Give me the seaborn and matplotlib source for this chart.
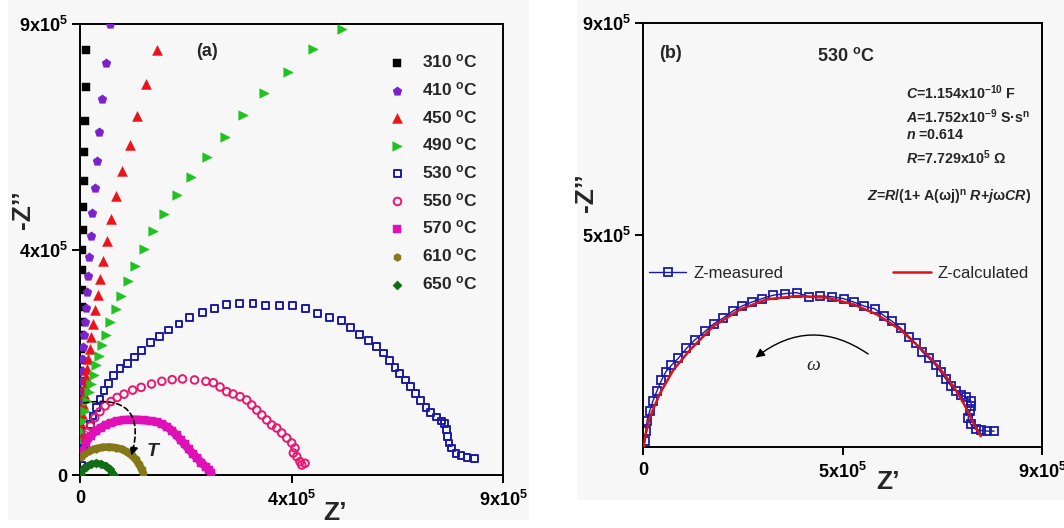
import matplotlib
matplotlib.use("Agg")
import matplotlib.pyplot as plt
from matplotlib.patches import Rectangle
import seaborn as sns

# ---- (a) Nyquist plots at different temperatures, values in kOhm ----
z310_re = [13.2, 12.4, 10.2, 9.5, 8.1, 7.3, 5.9, 4.4, 3.7, 3.7, 3.7, 3.7, 2.9, 2.2, 1.5, 0.7, 0.7, 0.0]
z310_im = [849, 775, 706, 644, 587, 535, 489, 449, 410, 370, 336, 306, 279, 252, 229, 208, 188, 168]

z410_re = [62.9, 54.9, 47.6, 41.0, 35.9, 31.5, 26.3, 22.7, 19.8, 16.8, 14.6, 12.4, 10.2, 8.0, 6.6,
           5.1, 3.7, 2.9, 2.2, 1.5, 0.7]
z410_im = [900, 823, 750, 685, 627, 573, 523, 476, 436, 398, 365, 333, 306, 279, 256,
           232, 208, 188, 168, 148, 128]

z450_re = [163.2, 140.5, 122.2, 105.4, 89.3, 77.6, 65.9, 58.5, 49.8, 43.2, 37.3, 32.2, 27.8, 23.4,
           20.5, 17.6, 14.6, 12.4, 10.2, 8.0, 5.9, 4.4, 2.9, 2.2]
z450_im = [849, 780, 716, 659, 607, 557, 511, 467, 428, 392, 360, 330, 301, 276,
           252, 232, 212, 195, 178, 161, 141, 121, 101, 81]

z490_re = [556.8, 496.1, 443.4, 392.2, 347.6, 308.0, 270.7, 236.3, 205.6, 179.3, 155.9, 136.1, 117.8,
           101.7, 87.8, 76.1, 64.4, 55.6, 47.6, 41.0, 35.1, 29.3, 24.1, 19.0, 14.6, 10.2, 7.3, 4.4, 2.2]
z490_im = [890, 851, 805, 762, 718, 675, 634, 595, 558, 521, 486, 451, 417,
           387, 358, 331, 306, 280, 259, 237, 219, 200, 182, 165, 148, 128, 108, 87, 67]

z530_re = [2.9, 7.3, 11.7, 16.8, 22.0, 27.8, 35.1, 42.4, 51.2, 60.7, 71.7, 84.9, 101.0, 115.6,
           131.7, 150.0, 168.3, 188.8, 210.7, 232.7, 259.8, 285.4, 311.7, 340.2, 368.0, 395.1,
           424.4, 452.2, 479.3, 504.9, 530.5, 556.1, 575.1, 594.9, 613.2, 631.5, 646.1, 658.5,
           670.2, 680.5, 692.2, 703.2, 714.1, 724.4, 736.1, 746.3, 758.0, 768.3, 776.3, 779.3,
           781.5, 785.1, 790.2, 799.8, 810.7, 823.2, 840.0]
z530_im = [20, 53.8, 74, 87.4, 100.9, 117.7, 134.5, 151.3, 168.2, 182.9, 198.4, 211.9, 222.0, 235.4,
           248.9, 263.7, 275.8, 289.2, 301.3, 314.8, 324.2, 332.9, 339.7, 343.0, 343.0, 337.6,
           337.6, 337.6, 332.9, 322.8, 314.8, 308.0, 294.6, 281.1, 269.0, 256.9, 243.5, 228.7,
           215.2, 203.1, 189.7, 176.2, 162.8, 149.3, 134.5, 124.4, 115.7, 107.6, 102.2, 90.8,
           77.3, 63.9, 53.8, 43.7, 39.0, 35.6, 33.6]

z550_re = [5.9, 11.7, 16.1, 22.0, 31.5, 42.4, 53.4, 65.9, 79.0, 93.7, 112.0, 130.2, 152.2, 174.1,
           196.1, 218.1, 243.7, 267.8, 283.7, 297.9, 312.2, 325.6, 340.5, 354.7, 365.4, 376.0,
           386.7, 397.3, 407.9, 418.6, 429.2, 439.9, 450.5, 457.5, 453.9, 461.2, 468.2, 478.8, 471.8]
z550_im = [47, 74, 86, 97.5, 114.3, 126.4, 137.9, 146.6, 154.7, 161.4, 169.5, 174.9, 181.6, 187.0,
           190.3, 191.7, 189.7, 187.0, 184.2, 175.6, 166.3, 161.7, 156.3, 149.7, 139.7, 129.7,
           119.8, 109.8, 99.8, 93.8, 83.8, 73.9, 63.9, 53.9, 43.9, 36.5, 26.5, 23.4, 20.0]

z570_re = [2.8, 12.1, 22.7, 33.3, 44.0, 54.6, 65.3, 79.4, 93.6, 107.8, 122.0, 136.2, 150.4, 164.6,
           175.2, 185.8, 196.5, 205.7, 214.2, 222.7, 231.9, 241.2, 249.7, 258.2, 267.4, 274.5, 279.5]
z570_im = [47.9, 64.5, 77.8, 87.8, 94.5, 99.8, 103.8, 107.8, 109.8, 110.4, 110.4, 109.1, 107.8, 105.8,
           101.1, 95.8, 87.8, 79.2, 69.9, 61.2, 51.2, 41.2, 33.3, 24.6, 16.6, 10.0, 4.7]

z610_re = [1.4, 8.5, 19.2, 33.3, 47.5, 61.7, 75.9, 90.1, 100.7, 109.9, 118.5, 125.5, 131.2, 134.8]
z610_im = [35.9, 42.6, 47.9, 52.6, 55.2, 55.9, 54.6, 51.2, 45.9, 39.3, 31.3, 21.3, 11.3, 2.7]

z650_re = [1.4, 5.0, 12.1, 22.7, 33.3, 44.0, 54.6, 63.1, 68.8, 72.3]
z650_im = [2.7, 10.0, 16.6, 21.3, 23.3, 22.0, 18.0, 11.3, 4.7, 0.0]

temps_a = ["310", "410", "450", "490", "530", "550", "570", "610", "650"]

# ---- (b) 530 C measured vs calculated, values in kOhm ----
zb_meas_re = [3.8, 6.0, 9.1, 15.1, 22.6, 31.7, 41.5, 51.3, 64.1, 79.2, 98.1, 116.9, 139.6, 159.9,
              181.1, 202.2, 222.5, 245.2, 267.8, 292.7, 320.6, 347.0, 373.4, 399.8, 426.2, 452.6,
              475.3, 499.4, 522.8, 543.2, 562.0, 580.9, 599.8, 614.8, 629.9, 645.0, 660.1, 671.4,
              682.7, 694.0, 705.4, 716.7, 728.0, 739.3, 740.8, 737.8, 733.3, 739.3, 750.6, 761.9,
              777.0, 792.1]
zb_meas_im = [12.2, 33.7, 55.2, 76.7, 98.2, 119.8, 141.3, 159.2, 173.5, 187.9, 209.4, 227.3, 245.2, 261.7,
              273.9, 288.3, 299.0, 307.6, 314.8, 322.0, 325.6, 327.7, 319.1, 320.6, 319.1, 314.8,
              307.6, 299.0, 293.3, 279.0, 266.8, 252.4, 234.5, 220.1, 202.2, 187.9, 173.5, 159.2,
              144.9, 130.5, 119.8, 111.2, 105.4, 98.2, 87.5, 76.7, 62.4, 48.0, 37.3, 35.1,
              33.7, 33.7]
zb_fit_re = [1.5, 6.0, 15.1, 37.7, 67.9, 105.6, 158.4, 218.8, 279.1, 347.0, 414.9, 475.3, 528.1,
             580.9, 626.2, 663.9, 701.6, 724.2, 746.9, 761.9]
zb_fit_im = [0, 26.5, 62.4, 112.6, 162.8, 205.8, 256.0, 291.9, 313.4, 320.5, 317.0, 302.6, 281.1,
             248.8, 209.4, 173.5, 126.9, 91.1, 48.0, 22.9]

# axis ticks as printed on the figure
ticks_a = [0, 450e3, 900e3]
xlabels_a = ["0", "4x10$^{5}$", "9x10$^{5}$"]
ylabels_a = ["0", "4x10$^{5}$", "9x10$^{5}$"]
xticks_b = [0, 450e3, 900e3]
xlabels_b = ["0", "5x10$^{5}$", "9x10$^{5}$"]
yticks_b = [450e3, 900e3]
ylabels_b = ["5x10$^{5}$", "9x10$^{5}$"]

K = 1e3

sns.set_theme(style="ticks")
plt.rcParams["font.family"] = ["Liberation Sans", "DejaVu Sans"]
plt.rcParams["mathtext.fontset"] = "custom"
plt.rcParams["mathtext.rm"] = "Liberation Sans:bold"
plt.rcParams["mathtext.it"] = "Liberation Sans:italic:bold"
plt.rcParams["mathtext.bf"] = "Liberation Sans:bold"
plt.rcParams["mathtext.default"] = "rm"

fig = plt.figure(figsize=(10.64, 5.28), dpi=100, facecolor="white")
fig.add_artist(Rectangle((0.0075, 0.015), 0.49, 0.985, transform=fig.transFigure,
                         facecolor="#f7f7f7", edgecolor="none", zorder=-5))
fig.add_artist(Rectangle((0.542, 0.053), 0.458, 0.947, transform=fig.transFigure,
                         facecolor="#f7f7f7", edgecolor="none", zorder=-5))

ax1 = fig.add_axes([80 / 1064, 53 / 528, 423 / 1064, 451 / 528])
ax2 = fig.add_axes([643 / 1064, 81 / 528, 399 / 1064, 424 / 528])

# --- panel (a) ---
series_a = [
    (z310_re, z310_im, "s", "#000000", True, 28),
    (z410_re, z410_im, "p", "#7a22cc", True, 46),
    (z450_re, z450_im, "^", "#e8141a", True, 52),
    (z490_re, z490_im, ">", "#1fc21f", True, 48),
    (z530_re, z530_im, "s", "#1a1aa8", False, 24),
    (z550_re, z550_im, "o", "#e8186e", False, 30),
    (z570_re, z570_im, "s", "#e010b8", True, 28),
    (z610_re, z610_im, "h", "#857818", True, 34),
    (z650_re, z650_im, "D", "#0f6e14", True, 22),
]
band_width = {"570": 6.0, "610": 5.5, "650": 5.0}

for t, (xs, ys, mk, col, filled, size) in zip(temps_a, series_a):
    xv = [v * K for v in xs]
    yv = [v * K for v in ys]
    if t in band_width:
        sns.lineplot(x=xv, y=yv, ax=ax1, sort=False, estimator=None, color=col,
                     lw=band_width[t], legend=False, zorder=2)
    label = t + " $^{o}$C"
    if filled:
        sns.scatterplot(x=xv, y=yv, ax=ax1, marker=mk, s=size, color=col,
                        edgecolor=col, linewidth=0.3, label=label, zorder=3)
    else:
        sns.scatterplot(x=xv, y=yv, ax=ax1, marker=mk, s=size, facecolor="none",
                        edgecolor=col, linewidth=1.4, label=label, zorder=3)

ax1.set_xlim(0, 900e3)
ax1.set_ylim(0, 900e3)
ax1.set_xticks(ticks_a, xlabels_a)
ax1.set_yticks(ticks_a, ylabels_a)

ax1.annotate("", xy=(108e3, 33e3), xytext=(2e3, 143e3),
             arrowprops=dict(arrowstyle="-|>", color="black", lw=1.2, linestyle=(0, (3, 2)),
                             connectionstyle="arc3,rad=-0.8", mutation_scale=12))
ax1.text(155e3, 46e3, "T", fontsize=14, fontweight="bold", fontstyle="italic",
         ha="center", va="center")
ax1.text(0.30, 0.938, "(a)", transform=ax1.transAxes, fontsize=13, fontweight="bold",
         ha="center", va="center")

ax1.legend(loc="upper left", bbox_to_anchor=(0.73, 0.937), frameon=False, borderaxespad=0,
           borderpad=0, handlelength=1.0, handletextpad=0.9, labelspacing=0.56,
           scatterpoints=1, prop={"size": 12.5, "weight": "bold"})

ax1.set_xlabel("Z’", fontsize=19, fontweight="bold")
ax1.set_ylabel("-Z’’", fontsize=19, fontweight="bold")
ax1.xaxis.set_label_coords(0.603, -0.058)
ax1.yaxis.set_label_coords(-0.106, 0.588)

# --- panel (b) ---
sns.lineplot(x=[v * K for v in zb_meas_re], y=[v * K for v in zb_meas_im], ax=ax2, sort=False,
             estimator=None, color="#1a1aa8", lw=1.0, marker="s", markersize=5.4,
             markerfacecolor="none", markeredgecolor="#1a1aa8", markeredgewidth=1.3,
             label="Z-measured", zorder=2)
sns.lineplot(x=[v * K for v in zb_fit_re], y=[v * K for v in zb_fit_im], ax=ax2, sort=False,
             estimator=None, color="#d91414", lw=1.8, label="Z-calculated", zorder=3)

ax2.set_xlim(0, 900e3)
ax2.set_ylim(0, 900e3)
ax2.set_xticks(xticks_b, xlabels_b)
ax2.set_yticks(yticks_b, ylabels_b)

ax2.legend(loc="center left", bbox_to_anchor=(0.015, 0.41), frameon=False, borderaxespad=0,
           borderpad=0, ncol=2, handlelength=2.25, handletextpad=0.4, columnspacing=6.6,
           prop={"size": 12})

ax2.annotate("", xy=(249e3, 186e3), xytext=(513e3, 194e3),
             arrowprops=dict(arrowstyle="-|>", color="black", lw=1.0,
                             connectionstyle="arc3,rad=0.38", mutation_scale=13))
ax2.text(383e3, 174e3, "ω", fontsize=14, fontstyle="italic", family="Liberation Serif",
         ha="center", va="center")
ax2.text(0.068, 0.929, "(b)", transform=ax2.transAxes, fontsize=13, fontweight="bold",
         ha="center", va="center")
ax2.text(0.509, 0.922, "530 $^{o}$C", transform=ax2.transAxes, fontsize=13, fontweight="bold",
         ha="center", va="center")

params = [
    "$\\mathit{C}$=1.154x10$^{-10}$ F",
    "$\\mathit{A}$=1.752x10$^{-9}$ S·s$^{n}$",
    "$\\mathit{n}$ =0.614",
    "$\\mathit{R}$=7.729x10$^{5}$ Ω",
]
param_y = [0.836, 0.780, 0.735, 0.683]
for s, yy in zip(params, param_y):
    ax2.text(0.659, yy, s, transform=ax2.transAxes, fontsize=10.3, fontweight="bold",
             ha="left", va="center")
ax2.text(0.562, 0.588, "$\\mathit{Z}$=$\\mathit{R}$/(1+ A(ωj)$^{n}$ $\\mathit{R}$+$\\mathit{j}$ω$\\mathit{CR}$)",
         transform=ax2.transAxes, fontsize=10.3, fontweight="bold", ha="left", va="center")

ax2.set_xlabel("Z’", fontsize=19, fontweight="bold")
ax2.set_ylabel("-Z’’", fontsize=19, fontweight="bold")
ax2.xaxis.set_label_coords(0.614, -0.055)
ax2.yaxis.set_label_coords(-0.113, 0.60)

for ax in (ax1, ax2):
    ax.set_facecolor("none")
    for sp in ax.spines.values():
        sp.set_visible(True)
        sp.set_linewidth(1.4)
        sp.set_color("black")
    ax.tick_params(direction="out", length=6, width=1.4, pad=3, labelsize=13, colors="black")
    ax.tick_params(axis="x", pad=5)
    for lab in ax.get_xticklabels() + ax.get_yticklabels():
        lab.set_fontweight("bold")

fig.savefig("out.png", dpi=100, facecolor=fig.get_facecolor())
